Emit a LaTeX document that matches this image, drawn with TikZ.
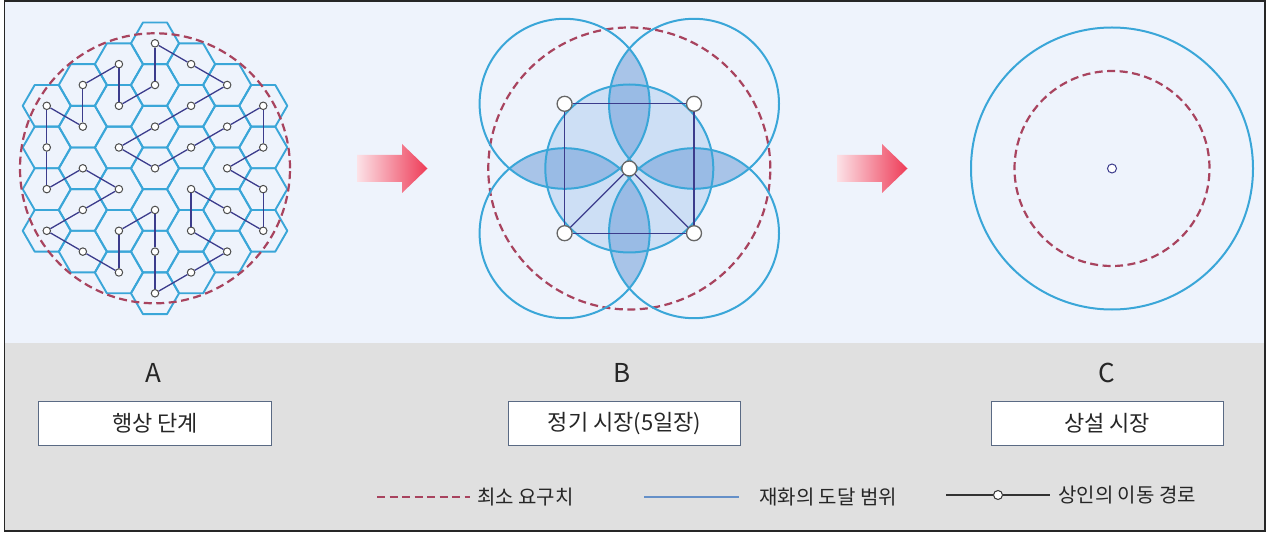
\documentclass[tikz,border=0pt]{standalone}
\usepackage{fontspec}
\setmainfont{Noto Sans CJK KR}
\usepackage{xcolor}
\usepackage{tikz}
\usetikzlibrary{positioning,calc}
\definecolor{fundoAzul}{HTML}{EEF3FC}
\definecolor{fundoCinza}{HTML}{E0E0E0}
\definecolor{azulHex}{HTML}{3AA6D8}
\definecolor{vinho}{HTML}{A8435E}
\definecolor{anil}{HTML}{3C3C8C}
\definecolor{lente}{HTML}{6F9FD8}
\definecolor{centro}{HTML}{CDDFF5}
\definecolor{borda}{HTML}{5A6A84}
\definecolor{setaIni}{HTML}{FCE2E7}
\definecolor{setaFim}{HTML}{EE3B57}
\definecolor{azulLeg}{HTML}{6590C8}
\tikzset{
    celula/.style={draw=azulHex, line width=1.9bp, line join=round},
    alcance/.style={draw=azulHex, line width=2bp},
    limiar/.style={draw=vinho, line width=2.2bp, dash pattern=on 8bp off 4.5bp},
    rota/.style={draw=anil, line width=1.3bp},
    parada/.style={
        circle,
        draw=black!70,
        fill=white,
        line width=1bp,
        inner sep=0pt,
        minimum size=7.5bp
    },
    paradaGrande/.style={parada, minimum size=15bp, draw=black!60, line width=1.3bp},
    caixa/.style={
        rectangle,
        draw=borda,
        fill=white,
        line width=1bp,
        minimum width=232bp,
        minimum height=43bp,
        text=black!85,
        font=\fontsize{22bp}{26bp}\selectfont
    },
    letra/.style={text=black!85, font=\fontsize{26bp}{30bp}\selectfont},
    legenda/.style={anchor=west, inner sep=0pt, text=black!85, font=\fontsize{20bp}{24bp}\selectfont}
}

\begin{document}
\begin{tikzpicture}[x=1bp, y=-1bp]
    \useasboundingbox (0,0) rectangle (1268,533);
    \fill[fundoAzul] (4.5,1) rectangle (1265,343);
    \fill[fundoCinza] (4.5,343) rectangle (1265,531);
    \draw[black!85, line width=1.5bp] (4.5,1) rectangle (1265,531);

    \foreach \k in {-3,...,3}{
        \pgfmathtruncatemacro\rmax{6-abs(\k)}
        \pgfmathtruncatemacro\rmin{-\rmax}
        \pgfmathtruncatemacro\rnxt{2-\rmax}
        \foreach \r in {\rmin,\rnxt,...,\rmax}
            \draw[celula, shift={({155+36.08*(\k)},{168.3+20.83*(\r)})}]
                (24.05,0) -- (12.03,20.83) -- (-12.03,20.83) -- (-24.05,0)
                -- (-12.03,-20.83) -- (12.03,-20.83) -- cycle;
    }
    \draw[limiar] (155,168.3) circle[radius=135bp];
    \foreach \k/\r [count=\i] in {0/-4,0/-6,1/-5,2/-4,1/-3,0/-2,-1/-1,0/0,1/-1,2/-2,
            3/-3,3/-1,2/0,3/1,3/3,2/2,1/1,1/3,2/4,1/5,0/6,0/4,0/2,-1/3,-1/5,
            -2/4,-3/3,-2/2,-1/1,-2/0,-3/1,-3/-1,-3/-3,-2/-2,-2/-4,-1/-5,-1/-3}
        \node[parada] (a\i) at ({155+36.08*(\k)},{168.3+20.83*(\r)}) {};
    \foreach \i [remember=\i as \j (initially 37)] in {1,...,37}
        \draw[rota] (a\j) -- (a\i);

    \shade[left color=setaIni, right color=setaFim]
        (357,155) -- (402,155) -- (402,144) -- (427.5,168.5) -- (402,193) -- (402,182) -- (357,182) -- cycle;

    \coordinate (bC) at (629.3,168.5);
    \coordinate (b1) at (564.6,103.8);
    \coordinate (b2) at (694,103.8);
    \coordinate (b3) at (564.6,233.2);
    \coordinate (b4) at (694,233.2);
    \fill[centro] (bC) circle[radius=84bp];
    \foreach \p/\q in {b1/b2, b2/b4, b4/b3, b3/b1}{
        \begin{scope}
            \clip (\p) circle[radius=85bp];
            \fill[lente, opacity=0.55] (\q) circle[radius=85bp];
        \end{scope}
    }
    \draw[limiar] (bC) circle[radius=141bp];
    \foreach \p in {b1,b2,b3,b4}
        \draw[alcance] (\p) circle[radius=85bp];
    \draw[alcance] (bC) circle[radius=84bp];
    \node[paradaGrande] (n0) at (bC) {};
    \node[paradaGrande] (n1) at (b1) {};
    \node[paradaGrande] (n2) at (b2) {};
    \node[paradaGrande] (n3) at (b3) {};
    \node[paradaGrande] (n4) at (b4) {};
    \draw[rota] (n1) -- (n2);
    \draw[rota] (n2) -- (n4);
    \draw[rota] (n4) -- (n3);
    \draw[rota] (n3) -- (n1);
    \draw[rota] (n0) -- (n3);
    \draw[rota] (n0) -- (n4);

    \shade[left color=setaIni, right color=setaFim]
        (837,155) -- (882,155) -- (882,144) -- (907.5,168.5) -- (882,193) -- (882,182) -- (837,182) -- cycle;

    \coordinate (cC) at (1112,168.5);
    \draw[alcance] (cC) circle[radius=141bp];
    \draw[limiar] (cC) circle[radius=97.5bp];
    \node[parada, draw=anil, minimum size=9bp] (c0) at (cC) {};

    \node[caixa] (caixaA) at (155,423.5) {행상 단계};
    \node[caixa] (caixaB) at (624.5,423.5) {정기 시장(5일장)};
    \node[caixa] (caixaC) at (1107,423.5) {상설 시장};
    \node[letra, above=15bp of caixaA, xshift=-2bp] (letraA) {A};
    \node[letra, above=15bp of caixaB, xshift=-2bp] (letraB) {B};
    \node[letra, above=15bp of caixaC] (letraC) {C};

    \coordinate (lg1a) at (377,497);
    \coordinate (lg1b) at (470,497);
    \draw[limiar] (lg1a) -- (lg1b);
    \node[legenda, right=7bp of lg1b] (lgTxt1) {최소 요구치};
    \coordinate (lg2a) at (644,497);
    \coordinate (lg2b) at (739,497);
    \draw[azulLeg, line width=2.5bp] (lg2a) -- (lg2b);
    \node[legenda, right=20bp of lg2b] (lgTxt2) {재화의 도달 범위};
    \coordinate (lg3a) at (946,495);
    \coordinate (lg3b) at (1050,495);
    \node[parada, draw=black!80, minimum size=9bp] (lgNo) at (998,495) {};
    \draw[black!80, line width=1.3bp] (lg3a) -- (lgNo);
    \draw[black!80, line width=1.3bp] (lgNo) -- (lg3b);
    \node[legenda, right=8bp of lg3b] (lgTxt3) {상인의 이동 경로};
\end{tikzpicture}
\end{document}
